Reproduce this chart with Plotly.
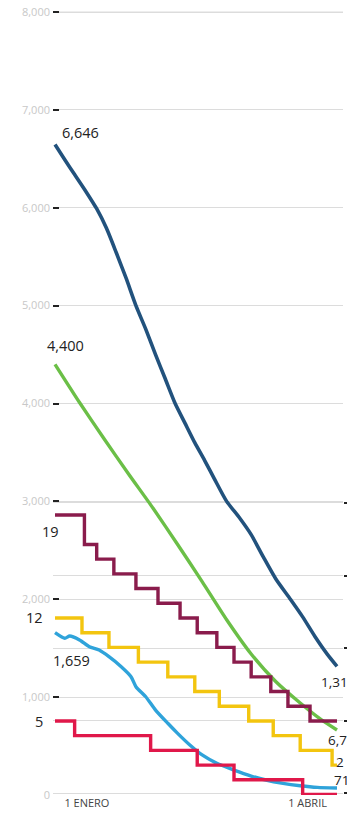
import plotly.graph_objects as go

# ---- x axis: days counted from 1 January ----
tick_days = [0, 90]
tick_text = ["1 ENERO", "1 ABRIL"]

# ---- y axes ticks ----
left_ticks = [0, 1000, 2000, 3000, 4000, 5000, 6000, 7000, 8000]
right_ticks = [0, 500, 1000, 1500, 2000]

# ---- continuous series (left scale) ----
darkblue_days = [-13, -9, -5, -1, 4, 8, 12, 16, 20, 24, 28, 32, 36, 40, 44, 48, 52, 57, 62, 67, 72, 77, 83, 88, 93, 98, 102]
darkblue_vals = [6646, 6490, 6340, 6190, 5990, 5790, 5540, 5280, 5000, 4760, 4500, 4250, 4000, 3800, 3600, 3420, 3230, 3000, 2840, 2660, 2430, 2210, 2000, 1820, 1620, 1440, 1315]

green_days = [-13, -3, 7, 17, 27, 37, 47, 57, 67, 77, 87, 95, 102]
green_vals = [4400, 4010, 3640, 3280, 2930, 2560, 2180, 1790, 1440, 1160, 940, 780, 664]
green_end_label = "6,771"

lightblue_days = [-13, -9, -7, -3, 1, 5, 9, 14, 18, 20, 24, 28, 33, 37, 42, 47, 53, 60, 67, 73, 80, 87, 94, 102]
lightblue_vals = [1659, 1601, 1624, 1584, 1515, 1481, 1413, 1311, 1209, 1107, 1004, 868, 733, 630, 511, 409, 324, 255, 194, 153, 119, 95, 78, 71]

# ---- step series (counts) ----
maroon_days = [-13, -1, 4, 11, 20, 29, 38, 45, 53, 60, 67, 75, 82, 91, 102]
maroon_vals = [19, 17, 16, 15, 14, 13, 12, 11, 10, 9, 8, 7, 6, 5, 5]

yellow_days = [-13, -2, 9, 21, 33, 44, 54, 66, 76, 87, 100, 102]
yellow_vals = [12, 11, 10, 9, 8, 7, 6, 5, 4, 3, 2, 2]

red_days = [-13, -5, 26, 45, 60, 88, 102]
red_vals = [5, 4, 3, 2, 1, 0, 0]

C_DARKBLUE = "#22527d"
C_GREEN = "#6bbf47"
C_LIGHTBLUE = "#2fa3da"
C_MAROON = "#8a1c4c"
C_YELLOW = "#f3c50f"
C_RED = "#e0184a"

FONT = "Open Sans"
GRID = "#dcdcdc"

fig = go.Figure()

fig.add_trace(go.Scatter(x=red_days, y=red_vals, yaxis="y3", mode="lines",
                         line=dict(color=C_RED, width=3.4, shape="hv"), hoverinfo="skip"))
fig.add_trace(go.Scatter(x=maroon_days, y=maroon_vals, yaxis="y3", mode="lines",
                         line=dict(color=C_MAROON, width=3.4, shape="hv"), hoverinfo="skip"))
fig.add_trace(go.Scatter(x=yellow_days, y=yellow_vals, yaxis="y3", mode="lines",
                         line=dict(color=C_YELLOW, width=3.4, shape="hv"), hoverinfo="skip"))
fig.add_trace(go.Scatter(x=lightblue_days, y=lightblue_vals, mode="lines",
                         line=dict(color=C_LIGHTBLUE, width=3.4, shape="spline", smoothing=0.6), hoverinfo="skip"))
fig.add_trace(go.Scatter(x=green_days, y=green_vals, mode="lines",
                         line=dict(color=C_GREEN, width=3.4, shape="spline", smoothing=0.6), hoverinfo="skip"))
fig.add_trace(go.Scatter(x=darkblue_days, y=darkblue_vals, mode="lines",
                         line=dict(color=C_DARKBLUE, width=3.6, shape="spline", smoothing=0.6), hoverinfo="skip"))
# empty trace so the right-hand scale is drawn
fig.add_trace(go.Scatter(x=[], y=[], yaxis="y2", hoverinfo="skip"))

# top gridline (plotly drops it so close to the plot edge)
fig.add_shape(type="line", xref="paper", yref="y", x0=0, x1=1,
              y0=left_ticks[-1], y1=left_ticks[-1], layer="below",
              line=dict(color=GRID, width=1))

def label(x, y, text, xanchor, xshift, yshift, yref="y", size=14.5):
    fig.add_annotation(x=x, y=y, xref="x", yref=yref, text=text, showarrow=False,
                       xanchor=xanchor, yanchor="middle", xshift=xshift, yshift=yshift,
                       borderpad=0,
                       font=dict(family=FONT, size=size, color="#222222"))

# start labels
label(darkblue_days[0], darkblue_vals[0], f"{darkblue_vals[0]:,}", "left", 6, 12)
label(green_days[0], green_vals[0], f"{green_vals[0]:,}", "center", 10, 19)
label(maroon_days[0], maroon_vals[0], f"{maroon_vals[0]}", "right", 5, -16, "y3")
label(yellow_days[0], yellow_vals[0], f"{yellow_vals[0]}", "right", -11, 0, "y3")
label(lightblue_days[0], lightblue_vals[0], f"{lightblue_vals[0]:,}", "left", -3, -28)
label(red_days[0], red_vals[0], f"{red_vals[0]}", "right", -11, -1, "y3")

# end labels
END = 13.5
label(darkblue_days[-1], darkblue_vals[-1], f"{darkblue_vals[-1]:,}", "left", -17, -16, size=END)
label(maroon_days[-1], maroon_vals[-1], f"{maroon_vals[-1]}", "left", 11, 14, "y3", size=END)
label(green_days[-1], green_vals[-1], green_end_label, "left", -10, -10, size=END)
label(yellow_days[-1], yellow_vals[-1], f"{yellow_vals[-1]}", "left", -2, 3, "y3", size=END)
label(lightblue_days[-1], lightblue_vals[-1], f"{lightblue_vals[-1]}", "left", -4, 8, size=END)

# the page body has an 8px margin, so the figure is sized to end at the window edge
fig.update_layout(
    width=347, height=805,
    margin=dict(l=45, r=12, t=0, b=18, autoexpand=False),
    paper_bgcolor="white", plot_bgcolor="white",
    showlegend=False,
    font=dict(family=FONT),
    xaxis=dict(range=[-13.82, 104.45], tickvals=tick_days, ticktext=tick_text,
               showgrid=False, zeroline=False, showline=False, ticks="", automargin=False,
               tickfont=dict(family=FONT, size=11, color="#444444")),
    yaxis=dict(range=[0, 8041], tickvals=left_ticks, tickformat=",", automargin=False,
               ticks="inside", ticklen=6, tickwidth=2, tickcolor="#222222",
               showgrid=True, gridcolor=GRID, gridwidth=1, ticklabeloverflow="allow",
               zeroline=False, showline=False, ticklabelstandoff=2,
               tickfont=dict(family=FONT, size=11, color="#c8c8c8")),
    yaxis2=dict(overlaying="y", side="right", range=[-13.8, 5413.7], tickvals=right_ticks,
                tickformat=",", ticks="outside", ticklen=6, tickwidth=2, tickcolor="#222222",
                showgrid=True, gridcolor=GRID, gridwidth=1, zeroline=False, showline=False,
                automargin=False, ticklabelstandoff=1, ticklabeloverflow="allow",
                tickfont=dict(family=FONT, size=11, color="#c8c8c8")),
    yaxis3=dict(overlaying="y", range=[-0.034, 53.47], visible=False),
)

fig.write_html("out.html")
